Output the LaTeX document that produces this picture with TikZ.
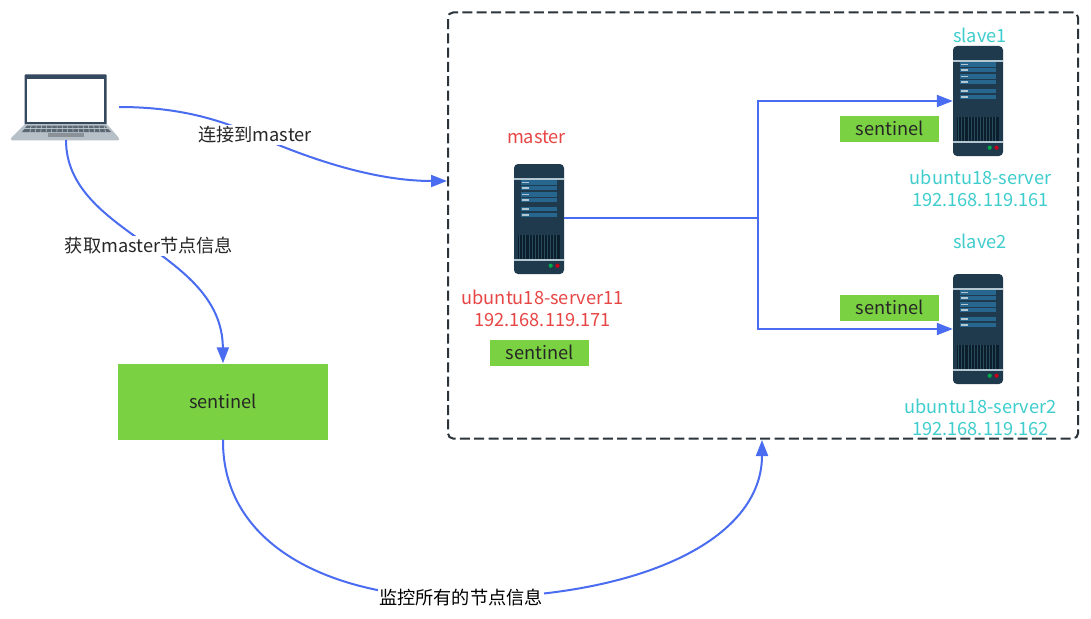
\documentclass[tikz,border=0pt]{standalone}
\usepackage{fontspec}
\setmainfont{Noto Sans CJK SC}
\usetikzlibrary{arrows.meta}
\definecolor{linkblue}{HTML}{4A6CF0}
\definecolor{greenbox}{HTML}{7AD142}
\definecolor{redtxt}{HTML}{E84545}
\definecolor{tealtxt}{HTML}{3FCDCD}
\definecolor{srvdark}{HTML}{1F3A4D}
\definecolor{srvbar}{HTML}{27678F}
\definecolor{srvlight}{HTML}{B4C6D0}
\definecolor{srvgrill}{HTML}{0B1E2C}
\definecolor{srvstripe}{HTML}{2A4A5E}
\definecolor{lapdark}{HTML}{34495E}
\definecolor{lapbase}{HTML}{B7C0C7}
\definecolor{lapkeys}{HTML}{5A6873}
\definecolor{lappad}{HTML}{8A9297}
\definecolor{dashcol}{HTML}{2B343A}
\tikzset{
  x=1pt,y=-1pt,
  txt/.style={inner sep=0pt,font=\fontsize{18.2}{22}\selectfont,text=black!85,align=center},
  redlabel/.style={txt,text=redtxt},
  teallabel/.style={txt,text=tealtxt},
  linklabel/.style={txt,fill=white,inner ysep=2pt,inner xsep=1pt},
  sentbox/.style={txt,fill=greenbox,minimum width=99pt,minimum height=26pt},
  link/.style={draw=linkblue,line width=2pt,-{Triangle[length=16pt,width=12pt]}},
  plain/.style={draw=linkblue,line width=2pt},
  anchorbox/.style={inner sep=0pt,minimum width=50pt,minimum height=110pt},
}
\newcommand{\srvpic}[2]{%
\begin{scope}[shift={(#1,#2)}]
  \fill[srvdark,rounded corners=4pt] (0,0) rectangle (50,110);
  \fill[srvlight] (0,14.3) rectangle (50,16);
  \foreach \yy in {16.3,21.8,28.3,34,43,48.7}{
    \fill[srvbar] (7,\yy) rectangle (43,\yy+4.4);
    \fill[srvlight] (7.7,\yy+1.4) rectangle (14.5,\yy+2.9);
  }
  \fill[srvgrill] (3.7,71) rectangle (45.5,94.5);
  \foreach \k in {0,...,12}{\fill[srvstripe] (5.2+\k*3.1,71) rectangle (6.1+\k*3.1,94.5);}
  \fill[srvlight] (0,95.3) rectangle (50,97);
  \fill[black!10!green!40!teal] (36.7,101.7) circle (2.1);
  \fill[black!20!red!60!purple] (43.5,101.7) circle (2.1);
\end{scope}}
\begin{document}
\begin{tikzpicture}
\useasboundingbox (0,0) rectangle (1091,618);
\fill[white] (0,0) rectangle (1091,618);

% group box
\node[draw=dashcol,line width=2pt,rounded corners=5pt,inner sep=0pt,
      minimum width=630pt,minimum height=426pt,dash pattern=on 10pt off 4.3pt] (group) at (763,225.5) {};

% laptop
\node[inner sep=0pt,minimum width=108pt,minimum height=66pt] (laptop) at (65,107) {};
\fill[lapdark,rounded corners=1pt] (24.5,74.3) rectangle (106.7,125);
\fill[white] (26.7,79) rectangle (104,121.7);
\fill[lapbase,rounded corners=1pt] (25,124) -- (106.7,124) -- (119,138) -- (119,140.3) -- (11,140.3) -- (11,138) -- cycle;
\fill[lapkeys] (27,125.5) -- (104.5,125.5) -- (111,132) -- (22,132) -- cycle;
\foreach \k in {1,...,15}{\draw[lapbase,line width=.6pt] (26+\k*5.2,125.5) -- (24.5+\k*5.4,132);}
\draw[lapbase,line width=.5pt] (24,128.7) -- (108,128.7);
\fill[lappad] (47.7,133) rectangle (84,137);

% servers
\node[anchorbox] (srvm) at (539,219) {};
\node[anchorbox] (srva) at (978,101) {};
\node[anchorbox] (srvb) at (978,329) {};
\srvpic{514}{164}
\srvpic{953}{46}
\srvpic{953}{274}

% sentinel boxes
\node[sentbox,minimum width=210pt,minimum height=76pt] (sentmain) at (223,401.5) {sentinel};
\node[sentbox] (sentm) at (539.5,352.5) {sentinel};
\node[sentbox] (senta) at (889.5,128.5) {sentinel};
\node[sentbox] (sentb) at (889.5,307.5) {sentinel};

% labels
\node[redlabel] (lblm) at (536.5,137) {master};
\node[redlabel] (lblmh) at (542.5,308) {ubuntu18-server11\\192.168.119.171};
\node[teallabel] (lbla) at (980,35) {slave1};
\node[teallabel] (lblah) at (980.5,188.5) {ubuntu18-server\\192.168.119.161};
\node[teallabel] (lblb) at (980,241) {slave2};
\node[teallabel] (lblbh) at (980.5,417) {ubuntu18-server2\\192.168.119.162};

% connectors
\coordinate (hub) at (758,218);
\coordinate (grpin) at (447,181);
\coordinate (grpbot) at (762,440);
\coordinate (lapbot) at (66,140);
\coordinate (pconn) at (255,135);
\coordinate (pget) at (149,246);
\coordinate (pmon) at (461,598);
\draw[plain] (srvm.east |- hub) -- (hub);
\draw[link] (hub) -- (hub |- srva.west) -- (srva.west);
\draw[link] (hub) -- (hub |- srvb.west) -- (srvb.west);
\draw[link] (laptop.east) .. controls (180,107) and (220,120) .. (pconn)
  .. controls (300,155) and (370,181) .. (grpin);
\draw[link] (lapbot) .. controls (66,235) and (222,250) .. (sentmain.north);
\draw[link] (sentmain.south) .. controls (222,545) and (330,598) .. (pmon)
  .. controls (640,598) and (762,540) .. (grpbot);
\node[linklabel] (lblconn) at (pconn) {连接到master};
\node[linklabel] (lblget) at (pget) {获取master节点信息};
\node[linklabel,text=black] (lblmon) at (pmon) {监控所有的节点信息};
\end{tikzpicture}
\end{document}
